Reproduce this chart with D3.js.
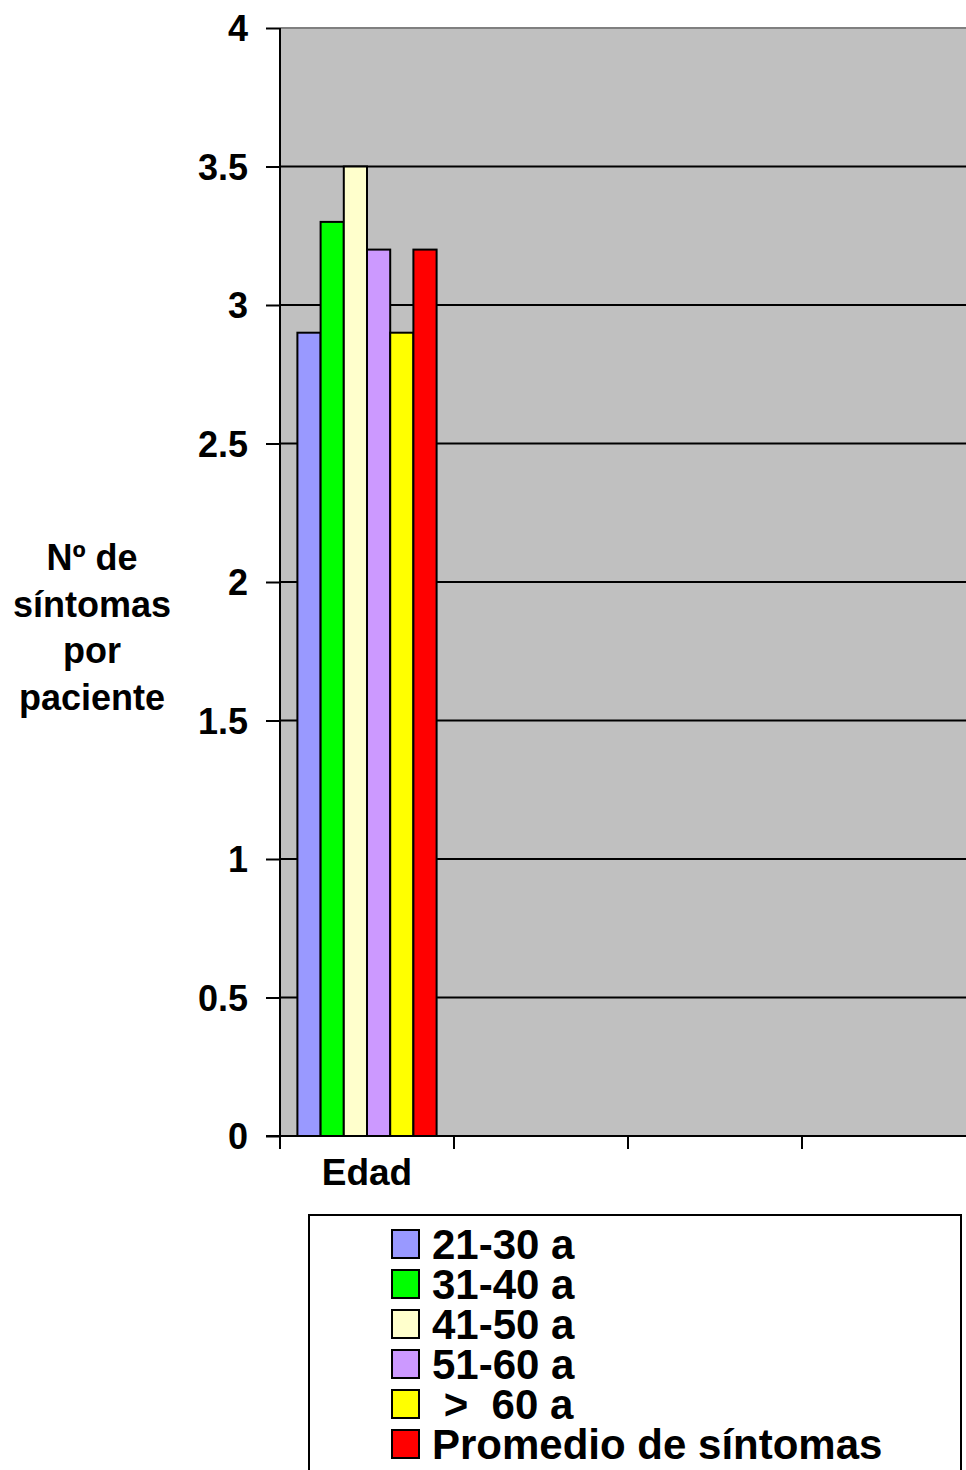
<!DOCTYPE html>
<html>
<head>
<meta charset="utf-8">
<script src="https://cdn.jsdelivr.net/npm/d3@7"></script>
<style>
  html, body { margin: 0; padding: 0; background: #fff; overflow: hidden; }
  text { font-family: "Liberation Sans", Arial, sans-serif; font-weight: bold; fill: #000; }
</style>
</head>
<body>
<svg id="chart" width="966" height="1470"></svg>
<script>
// Category slots on the x axis (only the first one carries data)
const categories = ["Edad", "", "", ""];

// Age groups plotted as side-by-side bars, plus the overall average
const seriesNames = ["21-30 a", "31-40 a", "41-50 a", "51-60 a", " >  60 a", "Promedio de síntomas"];
const seriesValues = [2.9, 3.3, 3.5, 3.2, 2.9, 3.2];
const seriesColors = ["#9999FF", "#00FF00", "#FFFFCC", "#CC99FF", "#FFFF00", "#FF0000"];

// Y axis ticks and title
const yTicks = [0, 0.5, 1, 1.5, 2, 2.5, 3, 3.5, 4];
const yTitleLines = ["Nº de", "síntomas", "por", "paciente"];

const svg = d3.select("#chart");

const plot = { left: 280, top: 28, bottom: 1136, bandWidth: 174 };
plot.right = plot.left + plot.bandWidth * categories.length;

const x = d3.scaleBand()
  .domain(d3.range(categories.length))
  .range([plot.left, plot.right])
  .paddingInner(0).paddingOuter(0);

const xs = d3.scaleBand()
  .domain(d3.range(seriesNames.length))
  .range([0, x.bandwidth()])
  .paddingInner(0).paddingOuter(0.75);

const y = d3.scaleLinear().domain([0, 4]).range([plot.bottom, plot.top]);

// Plot area background
svg.append("rect")
  .attr("x", plot.left).attr("y", plot.top)
  .attr("width", plot.right - plot.left).attr("height", plot.bottom - plot.top)
  .attr("fill", "#C0C0C0");

// Top border of the plot area
svg.append("line")
  .attr("x1", plot.left).attr("x2", plot.right)
  .attr("y1", plot.top).attr("y2", plot.top)
  .attr("stroke", "#808080").attr("stroke-width", 2);

// Horizontal gridlines
svg.append("g")
  .selectAll("line")
  .data(yTicks.filter(t => t > 0 && t < 4))
  .join("line")
  .attr("x1", plot.left).attr("x2", plot.right)
  .attr("y1", d => y(d)).attr("y2", d => y(d))
  .attr("stroke", "#000").attr("stroke-width", 2);

// Bars
svg.append("g")
  .selectAll("rect")
  .data(seriesValues)
  .join("rect")
  .attr("x", (d, i) => x(0) + xs(i))
  .attr("y", d => y(d))
  .attr("width", xs.bandwidth())
  .attr("height", d => y(0) - y(d))
  .attr("fill", (d, i) => seriesColors[i])
  .attr("stroke", "#000").attr("stroke-width", 2);

// Y axis
const yAxis = svg.append("g")
  .attr("transform", `translate(${plot.left},0)`)
  .call(d3.axisLeft(y).tickValues(yTicks).tickFormat(d3.format("")).tickSize(14).tickPadding(18));
yAxis.select(".domain").attr("stroke", "#000").attr("stroke-width", 2)
  .attr("d", `M0,${plot.top}V${plot.bottom}`);
yAxis.selectAll(".tick line").attr("stroke", "#000").attr("stroke-width", 2);
yAxis.selectAll(".tick text")
  .attr("font-size", 36).attr("dy", "0.36em")
  .style("font-family", "'Liberation Sans', Arial, sans-serif").style("font-weight", "bold");

// X axis: line, tick marks at the category boundaries, and category labels
const xAxis = svg.append("g").attr("transform", `translate(0,${plot.bottom})`);
xAxis.append("line")
  .attr("x1", plot.left - 14).attr("x2", plot.right)
  .attr("stroke", "#000").attr("stroke-width", 2);
xAxis.selectAll(".xt")
  .data(d3.range(categories.length))
  .join("line")
  .attr("class", "xt")
  .attr("x1", d => x(d)).attr("x2", d => x(d))
  .attr("y1", 0).attr("y2", 13)
  .attr("stroke", "#000").attr("stroke-width", 2);
xAxis.selectAll(".xl")
  .data(categories)
  .join("text")
  .attr("class", "xl")
  .attr("x", (d, i) => x(i) + x.bandwidth() / 2)
  .attr("y", 49)
  .attr("text-anchor", "middle")
  .attr("font-size", 37)
  .text(d => d);

// Y axis title
svg.append("text")
  .attr("text-anchor", "middle")
  .attr("font-size", 36)
  .selectAll("tspan")
  .data(yTitleLines)
  .join("tspan")
  .attr("x", 92)
  .attr("y", (d, i) => 570 + i * 46.7)
  .text(d => d);

// Legend
const legend = svg.append("g");
legend.append("rect")
  .attr("x", 309).attr("y", 1215)
  .attr("width", 652).attr("height", 300)
  .attr("fill", "#fff").attr("stroke", "#000").attr("stroke-width", 2);
const rows = legend.selectAll(".row")
  .data(seriesNames)
  .join("g")
  .attr("class", "row")
  .attr("transform", (d, i) => `translate(392,${1244 + i * 40})`);
rows.append("rect")
  .attr("x", 0).attr("y", -14)
  .attr("width", 27).attr("height", 28)
  .attr("fill", (d, i) => seriesColors[i])
  .attr("stroke", "#000").attr("stroke-width", 2);
rows.append("text")
  .attr("x", 40).attr("y", 0).attr("dy", "0.36em")
  .attr("font-size", 42)
  .attr("xml:space", "preserve")
  .style("white-space", "pre")
  .text(d => d);
</script>
</body>
</html>
